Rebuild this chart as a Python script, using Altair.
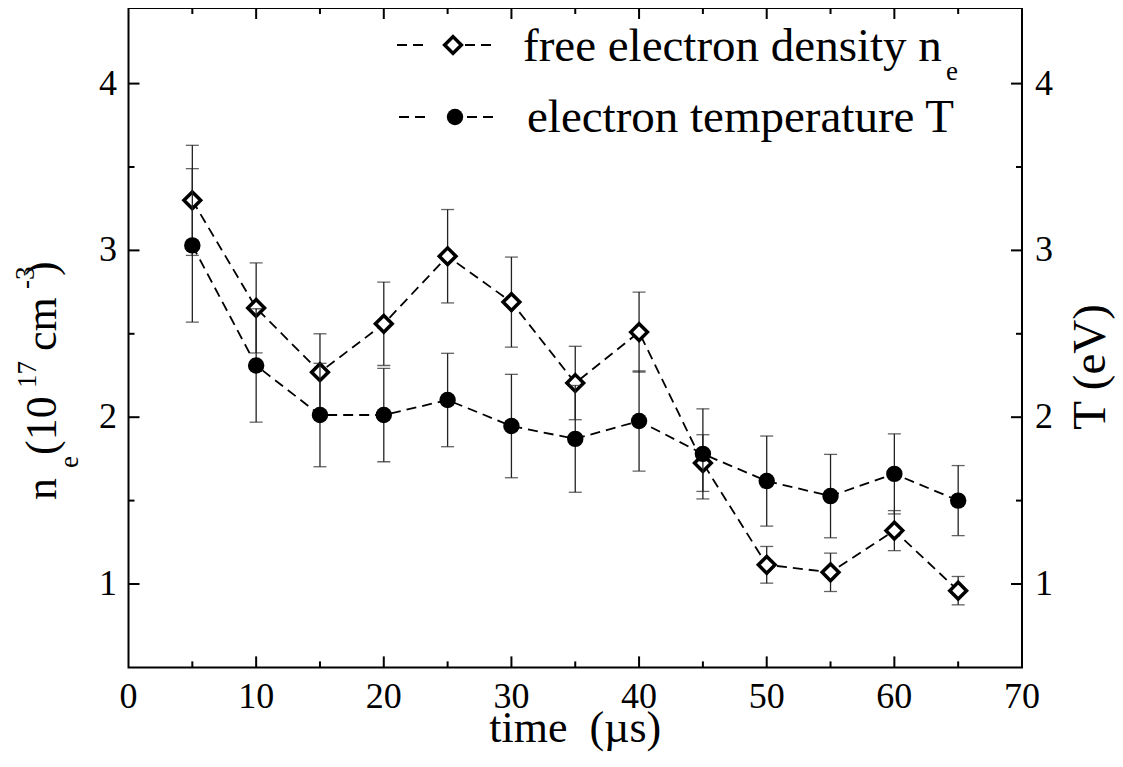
import altair as alt
import pandas as pd

# ---------------- data ----------------
time_us = [5, 10, 15, 20, 25, 30, 35, 40, 45, 50, 55, 60, 65]
ne_vals = [3.30, 2.655, 2.27, 2.56, 2.965, 2.69, 2.205, 2.51, 1.725, 1.115, 1.07, 1.32, 0.96]
ne_errs = [0.33, 0.27, 0.23, 0.25, 0.28, 0.27, 0.22, 0.24, 0.17, 0.11, 0.115, 0.12, 0.085]
T_vals = [3.03, 2.31, 2.013, 2.013, 2.103, 1.947, 1.87, 1.977, 1.78, 1.617, 1.527, 1.66, 1.50]
T_errs = [0.46, 0.34, 0.31, 0.28, 0.28, 0.31, 0.32, 0.30, 0.27, 0.27, 0.25, 0.24, 0.21]

x_label_values = [0, 10, 20, 30, 40, 50, 60, 70]
x_major = [10, 20, 30, 40, 50, 60]
x_minor = [5, 15, 25, 35, 45, 55, 65]
y_major = [1, 2, 3, 4]
y_minor = [1.5, 2.5, 3.5]

legend_labels = ["free electron density n", "electron temperature T"]

# ---------------- layout ----------------
W = 893.5
H = 659.4
Y_DOMAIN = [0.5, 4.4532]
FONT = "Liberation Serif"
OX, OY = 128.5, 8.0  # plot origin in page coords

df = pd.DataFrame({
    "t": time_us,
    "ne": ne_vals,
    "ne_lo": [v - e for v, e in zip(ne_vals, ne_errs)],
    "ne_hi": [v + e for v, e in zip(ne_vals, ne_errs)],
    "T": T_vals,
    "T_lo": [v - e for v, e in zip(T_vals, T_errs)],
    "T_hi": [v + e for v, e in zip(T_vals, T_errs)],
})

xscale = alt.Scale(domain=[0, 70], nice=False, zero=False)
yscale = alt.Scale(domain=Y_DOMAIN, nice=False, zero=False)

def X(f):
    return alt.X(f, scale=xscale, axis=None)

def Y(f):
    return alt.Y(f, scale=yscale, axis=None)

base = alt.Chart(df)
DASH = [10, 6]
BAR = "#222"

def series(col, lo, hi, point_mark):
    bar = base.mark_rule(color=BAR, strokeWidth=1.3).encode(x=X("t:Q"), y=Y(f"{lo}:Q"), y2=f"{hi}:Q")
    cap_lo = base.mark_tick(color=BAR, orient="horizontal", size=13, thickness=1.3).encode(
        x=X("t:Q"), y=Y(f"{lo}:Q"))
    cap_hi = base.mark_tick(color=BAR, orient="horizontal", size=13, thickness=1.3).encode(
        x=X("t:Q"), y=Y(f"{hi}:Q"))
    line = base.mark_line(color="black", strokeWidth=1.8, strokeDash=DASH).encode(
        x=X("t:Q"), y=Y(f"{col}:Q"))
    pts = point_mark.encode(x=X("t:Q"), y=Y(f"{col}:Q"))
    return [bar, cap_lo, cap_hi, line, pts]

ne_layers = series("ne", "ne_lo", "ne_hi",
                   base.mark_point(shape="diamond", filled=True, fill="white", stroke="black",
                                   strokeWidth=3.5, size=280, opacity=1))
T_layers = series("T", "T_lo", "T_hi",
                  base.mark_circle(color="black", size=270, opacity=1))

# ---- frame ticks (inward) and tick labels ----
def vx(vals):
    return alt.Chart(pd.DataFrame({"v": vals}))

tick_style = dict(color="black", strokeWidth=2)
ticks = [
    vx(x_major).mark_rule(**tick_style).encode(x=X("v:Q"), y=alt.value(H), y2=alt.value(H - 11)),
    vx(x_minor).mark_rule(**tick_style).encode(x=X("v:Q"), y=alt.value(H), y2=alt.value(H - 6)),
    vx(x_major).mark_rule(**tick_style).encode(x=X("v:Q"), y=alt.value(0), y2=alt.value(11)),
    vx(x_minor).mark_rule(**tick_style).encode(x=X("v:Q"), y=alt.value(0), y2=alt.value(6)),
    vx(y_major).mark_rule(**tick_style).encode(y=Y("v:Q"), x=alt.value(0), x2=alt.value(11)),
    vx(y_minor).mark_rule(**tick_style).encode(y=Y("v:Q"), x=alt.value(0), x2=alt.value(6)),
    vx(y_major).mark_rule(**tick_style).encode(y=Y("v:Q"), x=alt.value(W), x2=alt.value(W - 11)),
    vx(y_minor).mark_rule(**tick_style).encode(y=Y("v:Q"), x=alt.value(W), x2=alt.value(W - 6)),
]

lab = dict(font=FONT, fontSize=36, color="black")
tick_labels = [
    vx(x_label_values).mark_text(align="center", baseline="alphabetic", **lab).encode(
        x=X("v:Q"), y=alt.value(708 - OY), text=alt.Text("v:Q", format="d")),
    vx(y_major).mark_text(align="right", baseline="middle", **lab).encode(
        y=Y("v:Q"), x=alt.value(-11.5), text=alt.Text("v:Q", format="d")),
    vx(y_major).mark_text(align="left", baseline="middle", **lab).encode(
        y=Y("v:Q"), x=alt.value(W + 13), text=alt.Text("v:Q", format="d")),
]

# ---- text: titles ----
one = alt.Data(values=[{}])

def txt(s, x, y, size, angle=None, align="left", baseline="alphabetic"):
    kw = dict(text=s, font=FONT, fontSize=size, color="black", align=align, baseline=baseline)
    if angle is not None:
        kw["angle"] = angle
    return alt.Chart(one).mark_text(**kw).encode(x=alt.value(x), y=alt.value(y))

texts = [
    txt("time\u00a0\u00a0(\u00b5s)", W / 2, 742 - OY, 44, align="center"),
    txt("T (eV)", 1105 - OX, 367 - OY, 47, angle=270, align="center"),
    # left title n_e (10^17 cm^-3)
    txt("n", 56 - OX, 500 - OY, 44, angle=270),
    txt("e", 78 - OX, 468 - OY, 27, angle=270),
    txt("(10", 56 - OX, 455 - OY, 44, angle=270),
    txt("17", 36 - OX, 388 - OY, 27, angle=270),
    txt("cm", 56 - OX, 351 - OY, 44, angle=270),
    txt("-3", 34 - OX, 289 - OY, 27, angle=270),
    txt(")", 56 - OX, 276 - OY, 44, angle=270),
    # legend texts
    txt(legend_labels[0], 523 - OX, 61 - OY, 47),
    txt("e", 946 - OX, 80 - OY, 27),
    txt(legend_labels[1], 527 - OX, 132 - OY, 47),
]

# ---- legend symbols ----
def seg(x1, x2, y):
    return alt.Chart(one).mark_rule(color="black", strokeWidth=1.8, strokeDash=DASH).encode(
        x=alt.value(x1 - OX), x2=alt.value(x2 - OX), y=alt.value(y - OY))

legend = [
    seg(397, 423, 45), seg(465, 495, 45),
    alt.Chart(one).mark_point(shape="diamond", filled=True, fill="white", stroke="black",
                              strokeWidth=3.5, size=280, opacity=1).encode(
        x=alt.value(453 - OX), y=alt.value(45 - OY)),
    seg(399, 430, 117), seg(467, 497, 117),
    alt.Chart(one).mark_circle(color="black", size=270, opacity=1).encode(
        x=alt.value(455 - OX), y=alt.value(117 - OY)),
]

chart = alt.layer(*ne_layers, *T_layers, *ticks, *tick_labels, *texts, *legend).properties(
    width=W, height=H,
    autosize=alt.AutoSizeParams(type="none"),
    padding={"left": OX - 8, "top": 0, "right": 1107 - (OX - 8) - W, "bottom": 92},
).configure_view(stroke="black", strokeWidth=2)

chart.save("out.html", embed_options={"renderer": "svg", "actions": False})
